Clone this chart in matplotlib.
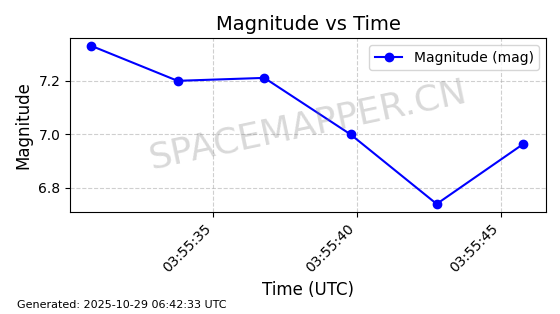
import matplotlib
matplotlib.use("Agg")
import matplotlib.pyplot as plt
import matplotlib.dates as mdates
from datetime import datetime

times = ["2025-10-29 03:55:30.74", "2025-10-29 03:55:33.75", "2025-10-29 03:55:36.77",
         "2025-10-29 03:55:39.77", "2025-10-29 03:55:42.77", "2025-10-29 03:55:45.77"]
magnitude = [7.331, 7.200, 7.211, 7.000, 6.740, 6.963]
generated = "Generated: 2025-10-29 06:42:33 UTC"

t = [datetime.strptime(s, "%Y-%m-%d %H:%M:%S.%f") for s in times]

fig = plt.figure(figsize=(5.6, 3.14), dpi=100)
ax = fig.add_axes([70 / 560, 1 - 212 / 314, 476 / 560, 174 / 314])
ax.plot(t, magnitude, "o-", color="blue", markersize=6, label="Magnitude (mag)")
ax.set_title("Magnitude vs Time", fontsize=14)
ax.set_xlabel("Time (UTC)", fontsize=12)
ax.set_ylabel("Magnitude", fontsize=12)
ax.grid(True, linestyle="--", alpha=0.6)
ax.xaxis.set_major_locator(mdates.SecondLocator(bysecond=range(0, 60, 5)))
ax.xaxis.set_major_formatter(mdates.DateFormatter("%H:%M:%S"))
plt.setp(ax.get_xticklabels(), rotation=45, ha="right")
ax.set_xlim(datetime(2025, 10, 29, 3, 55, 30, 5000), datetime(2025, 10, 29, 3, 55, 46, 575000))
ax.set_ylim(6.71, 7.36)
ax.set_yticks([6.8, 7.0, 7.2])
ax.legend(loc="upper right")
ax.text(0.5, 0.5, "SPACEMAPPER.CN", transform=ax.transAxes, fontsize=26,
        color="gray", alpha=0.3, rotation=12, ha="center", va="center")
fig.text(17 / 560, 1 - 305 / 314, generated, fontsize=8, va="center")
fig.savefig("out.png", dpi=100)
